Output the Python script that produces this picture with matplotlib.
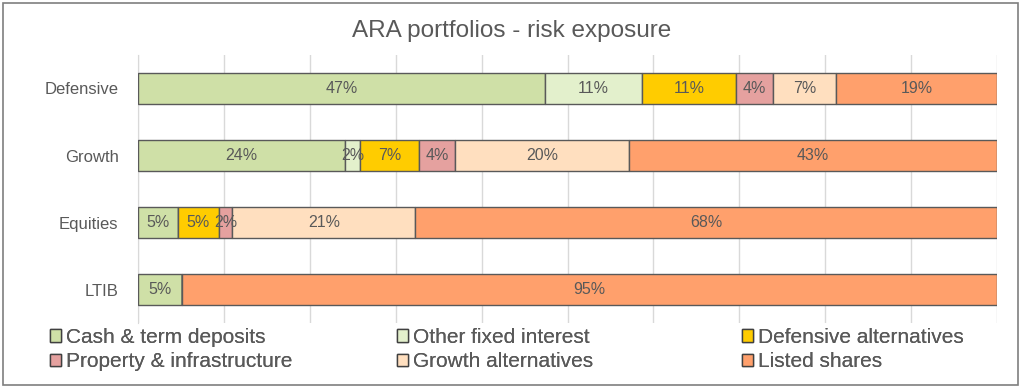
import matplotlib.pyplot as plt
from matplotlib.patches import Rectangle

plt.rcParams['font.family'] = ['Liberation Sans', 'DejaVu Sans']

portfolios = ["Defensive", "Growth", "Equities", "LTIB"]
series = ["Cash & term deposits", "Other fixed interest", "Defensive alternatives",
          "Property & infrastructure", "Growth alternatives", "Listed shares"]

cash = [47.4, 24.1, 4.6, 5.1]
other_fixed = [11.3, 1.7, 0, 0]
defensive_alt = [10.9, 6.9, 4.8, 0]
property_infra = [4.3, 4.2, 1.6, 0]
growth_alt = [7.4, 20.3, 21.3, 0]
listed = [18.7, 42.8, 67.7, 94.9]

colors = ["#CFE0A7", "#E3F0CC", "#FFCC00", "#E5A19F", "#FFDFBF", "#FFA06C"]
text_col = "#595959"

fig = plt.figure(figsize=(10.24, 3.92), dpi=100)
ax = fig.add_axes([138 / 1024, 1 - 323 / 392, 859 / 1024, 268 / 392])

data = [cash, other_fixed, defensive_alt, property_infra, growth_alt, listed]
ypos = range(len(portfolios))
left = [0] * len(portfolios)
for name, vals, c in zip(series, data, colors):
    bars = ax.barh(ypos, vals, left=left, height=0.47, color=c,
                   edgecolor="#595959", linewidth=1.0, label=name, zorder=3)
    for b, v in zip(bars, vals):
        if v > 0:
            ax.text(b.get_x() + b.get_width() / 2, b.get_y() + b.get_height() / 2,
                    f"{round(v)}%", ha="center", va="center", fontsize=11.5,
                    color=text_col, zorder=4)
    left = [l + v for l, v in zip(left, vals)]

ax.set_xlim(0, 100)
ax.set_ylim(3.5, -0.5)
ax.set_xticks(range(0, 101, 10))
ax.set_xticklabels([])
ax.tick_params(axis="x", length=0)
ax.tick_params(axis="y", length=0, pad=14, labelsize=12, labelcolor=text_col)
ax.set_yticks(list(ypos))
ax.set_yticklabels(portfolios)
ax.grid(axis="x", color="#D9D9D9", linewidth=1, zorder=0)
for s in ["top", "right", "bottom"]:
    ax.spines[s].set_visible(False)
ax.spines["left"].set_color("#D9D9D9")

fig.text(0.5, 1 - 31 / 392, "ARA portfolios - risk exposure", ha="center",
         va="center", fontsize=17.5, color=text_col)

# legend: three columns, two rows, row-major order like the original
handles = [Rectangle((0, 0), 1, 1, facecolor=c, edgecolor="#404040", linewidth=1)
           for c in colors]
col_x = [50, 397, 742]
for k, x in enumerate(col_x):
    idx = [k, k + 3]
    leg = fig.legend([handles[i] for i in idx], [series[i] for i in idx],
                     loc="upper left", bbox_to_anchor=(x / 1024, 1 - 328 / 392),
                     frameon=False, fontsize=15, labelcolor=text_col,
                     handlelength=0.55, handleheight=0.55, handletextpad=0.2,
                     labelspacing=0.25, borderaxespad=0, borderpad=0)
    fig.add_artist(leg)

fig.patches.append(Rectangle((3 / 1024, 1 - 385 / 392), 1015 / 1024, 382 / 392,
                             transform=fig.transFigure, fill=False,
                             edgecolor="#7F7F7F", linewidth=1.2))

fig.savefig("out.png", dpi=100)
